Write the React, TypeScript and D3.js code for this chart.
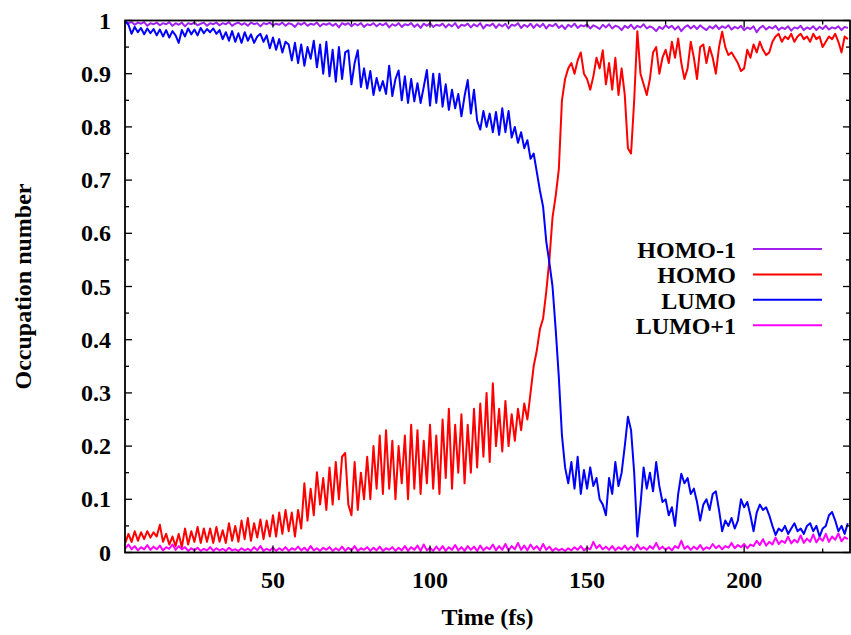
import React from "react";
import * as d3 from "d3";

// time grid of the trajectory (fs), one sample per fs
const tStart = 3;
const tStep = 1;

const homo1 = [
  0.998, 0.995, 0.997, 0.992, 0.996, 0.994, 0.997, 0.99, 0.995, 0.993,
  0.996, 0.991, 0.995, 0.993, 0.997, 0.99, 0.995, 0.992, 0.996, 0.989,
  0.995, 0.993, 0.996, 0.991, 0.994, 0.996, 0.99, 0.995, 0.993, 0.996,
  0.991, 0.995, 0.993, 0.997, 0.99, 0.994, 0.996, 0.992, 0.995, 0.99,
  0.996, 0.993, 0.995, 0.989, 0.995, 0.993, 0.996, 0.991, 0.994, 0.992,
  0.996, 0.99, 0.995, 0.993, 0.988, 0.995, 0.992, 0.996, 0.99, 0.994,
  0.992, 0.996, 0.989, 0.994, 0.992, 0.995, 0.99, 0.994, 0.987, 0.995,
  0.992, 0.995, 0.989, 0.994, 0.991, 0.995, 0.988, 0.993, 0.991, 0.995,
  0.989, 0.994, 0.991, 0.995, 0.987, 0.993, 0.99, 0.995, 0.988, 0.993,
  0.991, 0.995, 0.988, 0.993, 0.986, 0.994, 0.99, 0.995, 0.988, 0.992,
  0.99, 0.994, 0.987, 0.993, 0.989, 0.995, 0.986, 0.992, 0.99, 0.994,
  0.987, 0.993, 0.989, 0.995, 0.985, 0.992, 0.99, 0.994, 0.986, 0.993,
  0.989, 0.994, 0.985, 0.992, 0.99, 0.995, 0.986, 0.992, 0.988, 0.994,
  0.986, 0.993, 0.988, 0.994, 0.985, 0.992, 0.989, 0.994, 0.986, 0.991,
  0.984, 0.992, 0.988, 0.994, 0.986, 0.991, 0.989, 0.993, 0.985, 0.991,
  0.988, 0.984, 0.992, 0.987, 0.993, 0.985, 0.99, 0.988, 0.982, 0.99,
  0.986, 0.992, 0.984, 0.99, 0.987, 0.993, 0.985, 0.989, 0.986, 0.98,
  0.988, 0.984, 0.991, 0.986, 0.99, 0.983, 0.989, 0.98, 0.987, 0.991,
  0.985, 0.99, 0.984, 0.991, 0.986, 0.982, 0.989, 0.985, 0.991, 0.984,
  0.989, 0.986, 0.991, 0.983, 0.988, 0.985, 0.99, 0.982, 0.987, 0.984,
  0.989, 0.978, 0.986, 0.99, 0.983, 0.988, 0.985, 0.99, 0.982, 0.987,
  0.984, 0.989, 0.981, 0.987, 0.985, 0.99, 0.982, 0.987, 0.984, 0.989,
  0.982, 0.988, 0.984, 0.99, 0.983, 0.987, 0.985, 0.989, 0.982, 0.988,
  0.986,
];

const homo = [
  0.018, 0.035, 0.02, 0.04, 0.022, 0.038, 0.025, 0.04, 0.028, 0.038,
  0.03, 0.052, 0.02, 0.035, 0.015, 0.03, 0.012, 0.035, 0.01, 0.045,
  0.015, 0.04, 0.02, 0.048, 0.018, 0.045, 0.02, 0.045, 0.018, 0.048,
  0.02, 0.042, 0.018, 0.055, 0.022, 0.05, 0.02, 0.06, 0.025, 0.065,
  0.022, 0.055, 0.028, 0.062, 0.025, 0.06, 0.03, 0.07, 0.03, 0.075,
  0.035, 0.08, 0.04, 0.075, 0.03, 0.08, 0.045, 0.13, 0.06, 0.12,
  0.07, 0.151, 0.09, 0.14, 0.08, 0.16, 0.09, 0.17, 0.1, 0.18,
  0.187, 0.09, 0.07, 0.17, 0.08, 0.15, 0.1, 0.18, 0.1, 0.2,
  0.12, 0.22, 0.11, 0.23, 0.12, 0.21, 0.1, 0.2, 0.13, 0.22,
  0.1, 0.24, 0.12, 0.23, 0.11, 0.21, 0.13, 0.24, 0.12, 0.22,
  0.11, 0.25, 0.14, 0.27, 0.12, 0.24, 0.15, 0.26, 0.13, 0.24,
  0.15, 0.27, 0.16, 0.28, 0.18, 0.3, 0.17, 0.318, 0.2, 0.27,
  0.19, 0.285, 0.2, 0.26, 0.21, 0.27, 0.23, 0.28, 0.25, 0.3,
  0.35, 0.38, 0.42, 0.44, 0.49, 0.55, 0.63, 0.67, 0.72, 0.85,
  0.89, 0.91, 0.92, 0.9, 0.925, 0.94, 0.9, 0.89, 0.87, 0.895,
  0.93, 0.91, 0.944, 0.88, 0.92, 0.87, 0.93, 0.86, 0.91, 0.86,
  0.76, 0.75, 0.85, 0.98, 0.9, 0.88, 0.86, 0.89, 0.94, 0.95,
  0.9, 0.93, 0.945, 0.92, 0.96, 0.93, 0.966, 0.92, 0.89, 0.91,
  0.96, 0.93, 0.89, 0.95, 0.955, 0.92, 0.95, 0.93, 0.9, 0.95,
  0.979, 0.95, 0.935, 0.94, 0.93, 0.92, 0.905, 0.91, 0.945, 0.93,
  0.955, 0.94, 0.96, 0.945, 0.935, 0.94, 0.96, 0.97, 0.975, 0.96,
  0.97, 0.965, 0.975, 0.96, 0.97, 0.975, 0.965, 0.97, 0.96, 0.975,
  0.965, 0.97, 0.95, 0.96, 0.97, 0.965, 0.975, 0.96, 0.94, 0.97,
  0.965,
];

const lumo = [
  0.998, 0.992, 0.975, 0.988, 0.978, 0.986, 0.974, 0.985, 0.976, 0.984,
  0.972, 0.983, 0.97, 0.982, 0.968, 0.98, 0.972, 0.958, 0.982, 0.97,
  0.985, 0.974, 0.983, 0.972, 0.986, 0.976, 0.984, 0.978, 0.985, 0.975,
  0.982, 0.965, 0.978, 0.962, 0.98, 0.96, 0.976, 0.958, 0.978, 0.962,
  0.974, 0.958, 0.97, 0.975, 0.96, 0.972, 0.948, 0.968, 0.945, 0.965,
  0.94, 0.96, 0.955, 0.925, 0.958, 0.92, 0.955, 0.915, 0.95, 0.928,
  0.962, 0.912, 0.955, 0.9, 0.96, 0.895, 0.945, 0.885, 0.95, 0.89,
  0.94, 0.944, 0.88, 0.92, 0.944, 0.875, 0.91, 0.872, 0.905, 0.86,
  0.892, 0.868, 0.886, 0.862, 0.915, 0.858, 0.89, 0.906, 0.85, 0.895,
  0.845, 0.89, 0.848, 0.882, 0.845, 0.875, 0.907, 0.84, 0.9, 0.845,
  0.9, 0.838, 0.88, 0.832, 0.87, 0.835, 0.862, 0.82, 0.858, 0.888,
  0.825, 0.87, 0.812, 0.795, 0.83, 0.8, 0.825, 0.79, 0.828, 0.785,
  0.835, 0.79, 0.83, 0.78, 0.8, 0.77, 0.79, 0.76, 0.775, 0.74,
  0.75, 0.715, 0.68, 0.65, 0.585, 0.545, 0.5, 0.42, 0.33, 0.22,
  0.16, 0.13, 0.17, 0.12, 0.18, 0.11, 0.155, 0.12, 0.16, 0.125,
  0.14, 0.1, 0.09, 0.07, 0.14, 0.11, 0.17, 0.125, 0.15, 0.2,
  0.255, 0.23, 0.15, 0.03, 0.09, 0.16, 0.12, 0.15, 0.115, 0.17,
  0.125, 0.095, 0.1, 0.07, 0.085, 0.05, 0.11, 0.148, 0.13, 0.14,
  0.11, 0.12, 0.095, 0.06, 0.09, 0.1, 0.08, 0.11, 0.115, 0.08,
  0.04, 0.06, 0.05, 0.065, 0.045, 0.06, 0.1, 0.085, 0.095, 0.07,
  0.04, 0.075, 0.09, 0.08, 0.085, 0.07, 0.05, 0.033, 0.045, 0.04,
  0.05, 0.035, 0.045, 0.055, 0.04, 0.045, 0.035, 0.05, 0.055, 0.04,
  0.05, 0.03, 0.045, 0.05, 0.07, 0.076, 0.06, 0.04, 0.05, 0.035,
  0.055,
];

const lumo1 = [
  0.008, 0.015, 0.006, 0.012, 0.004, 0.01, 0.006, 0.014, 0.005, 0.011,
  0.006, 0.013, 0.004, 0.01, 0.007, 0.015, 0.005, 0.012, 0.006, 0.01,
  0.003, 0.008, 0.004, 0.009, 0.003, 0.007, 0.004, 0.01, 0.003, 0.008,
  0.004, 0.007, 0.003, 0.009, 0.004, 0.006, 0.003, 0.008, 0.004, 0.007,
  0.003, 0.01, 0.004, 0.012, 0.003, 0.007, 0.004, 0.009, 0.003, 0.008,
  0.004, 0.01, 0.003, 0.008, 0.005, 0.011, 0.004, 0.009, 0.003, 0.012,
  0.004, 0.008, 0.003, 0.009, 0.005, 0.01, 0.003, 0.008, 0.004, 0.011,
  0.003, 0.009, 0.004, 0.012, 0.003, 0.008, 0.005, 0.01, 0.003, 0.009,
  0.004, 0.011, 0.003, 0.008, 0.005, 0.01, 0.003, 0.009, 0.004, 0.012,
  0.003, 0.01, 0.005, 0.013, 0.003, 0.015, 0.004, 0.009, 0.003, 0.011,
  0.004, 0.012, 0.003, 0.01, 0.005, 0.014, 0.004, 0.01, 0.003, 0.012,
  0.005, 0.011, 0.003, 0.013, 0.004, 0.01, 0.006, 0.015, 0.004, 0.012,
  0.005, 0.016, 0.004, 0.012, 0.006, 0.018, 0.005, 0.013, 0.004, 0.015,
  0.006, 0.012, 0.004, 0.016, 0.005, 0.011, 0.003, 0.008, 0.004, 0.007,
  0.003, 0.008, 0.004, 0.01, 0.005, 0.012, 0.004, 0.009, 0.006, 0.02,
  0.008, 0.014, 0.006, 0.011, 0.005, 0.012, 0.004, 0.01, 0.006, 0.013,
  0.005, 0.011, 0.004, 0.015, 0.006, 0.01, 0.005, 0.012, 0.007, 0.018,
  0.006, 0.011, 0.005, 0.01, 0.004, 0.012, 0.008, 0.022, 0.007, 0.012,
  0.005, 0.011, 0.006, 0.014, 0.005, 0.01, 0.007, 0.016, 0.008, 0.013,
  0.006, 0.012, 0.009, 0.018, 0.008, 0.014, 0.01, 0.016, 0.008, 0.015,
  0.012, 0.022, 0.014, 0.025, 0.013, 0.02, 0.015, 0.028, 0.016, 0.022,
  0.018, 0.03, 0.017, 0.024, 0.019, 0.032, 0.018, 0.026, 0.02, 0.034,
  0.019, 0.028, 0.022, 0.035, 0.02, 0.03, 0.024, 0.036, 0.021, 0.029,
  0.025,
];

const seriesNames = ["HOMO-1", "HOMO", "LUMO", "LUMO+1"];
const seriesColors = ["#a020f0", "#ff0000", "#0000ff", "#ff00ff"];
const seriesValues = [homo1, homo, lumo, lumo1];

const xTicks = [50, 100, 150, 200];
const xMinorTicks = [25, 75, 125, 175, 225];
const yTicks = [0, 0.1, 0.2, 0.3, 0.4, 0.5, 0.6, 0.7, 0.8, 0.9, 1];
const yTickLabels = ["0", "0.1", "0.2", "0.3", "0.4", "0.5", "0.6", "0.7", "0.8", "0.9", "1"];
const yMinorTicks = [0.05, 0.15, 0.25, 0.35, 0.45, 0.55, 0.65, 0.75, 0.85, 0.95];

const W = 851;
const H = 635;
const left = 125;
const right = 850;
const top = 20.5;
const bottom = 552.5;
const font = "'Liberation Serif', 'Times New Roman', serif";

const App = () => {
  const x = d3.scaleLinear().domain([2.9, 233.7]).range([left, right]);
  const y = d3.scaleLinear().domain([0, 1]).range([bottom, top]);

  const line = d3
    .line<number>()
    .x((d, i) => x(tStart + i * tStep))
    .y(d => y(d));

  return (
    <svg
      width={W}
      height={H}
      style={{ position: "absolute", left: 0, top: 0, background: "#fff" }}
      fontFamily={font}
      fontWeight="bold"
    >
      {/* data */}
      <g fill="none" strokeWidth={2} strokeLinejoin="round">
        {seriesValues.map((vals, i) => (
          <path key={seriesNames[i]} d={line(vals) || ""} stroke={seriesColors[i]} />
        ))}
      </g>

      {/* frame */}
      <rect
        x={left}
        y={top}
        width={right - left}
        height={bottom - top}
        fill="none"
        stroke="#000"
        strokeWidth={1.8}
      />

      {/* y ticks */}
      <g stroke="#000" strokeWidth={1.3}>
        {yTicks.map(v => (
          <g key={"y" + v}>
            <line x1={left} x2={left + 7} y1={y(v)} y2={y(v)} />
            <line x1={right} x2={right - 7} y1={y(v)} y2={y(v)} />
          </g>
        ))}
        {yMinorTicks.map(v => (
          <g key={"ym" + v}>
            <line x1={left} x2={left + 4} y1={y(v)} y2={y(v)} />
            <line x1={right} x2={right - 4} y1={y(v)} y2={y(v)} />
          </g>
        ))}
        {xTicks.map(v => (
          <g key={"x" + v}>
            <line x1={x(v)} x2={x(v)} y1={bottom} y2={bottom - 7} />
            <line x1={x(v)} x2={x(v)} y1={top} y2={top + 7} />
          </g>
        ))}
        {xMinorTicks.map(v => (
          <g key={"xm" + v}>
            <line x1={x(v)} x2={x(v)} y1={bottom} y2={bottom - 4} />
            <line x1={x(v)} x2={x(v)} y1={top} y2={top + 4} />
          </g>
        ))}
      </g>

      {/* tick labels */}
      <g fontSize={24} fill="#000">
        {yTicks.map((v, i) => (
          <text key={"yl" + v} x={111} y={y(v)} dy="0.34em" textAnchor="end">
            {yTickLabels[i]}
          </text>
        ))}
        {xTicks.map(v => (
          <text key={"xl" + v} x={x(v)} y={588} textAnchor="middle">
            {v}
          </text>
        ))}
      </g>

      {/* axis titles */}
      <text x={(left + right) / 2} y={625} fontSize={24} textAnchor="middle">
        Time (fs)
      </text>
      <text
        transform={`translate(31, ${(top + bottom) / 2}) rotate(-90)`}
        fontSize={24}
        textAnchor="middle"
      >
        Occupation number
      </text>

      {/* legend */}
      <g fontSize={24}>
        {seriesNames.map((name, i) => {
          const ly = 249 + i * 25.4;
          return (
            <g key={name}>
              <text x={736} y={ly + 9} textAnchor="end">
                {name}
              </text>
              <line x1={753} x2={822} y1={ly} y2={ly} stroke={seriesColors[i]} strokeWidth={2} />
            </g>
          );
        })}
      </g>
    </svg>
  );
};

export default App;
